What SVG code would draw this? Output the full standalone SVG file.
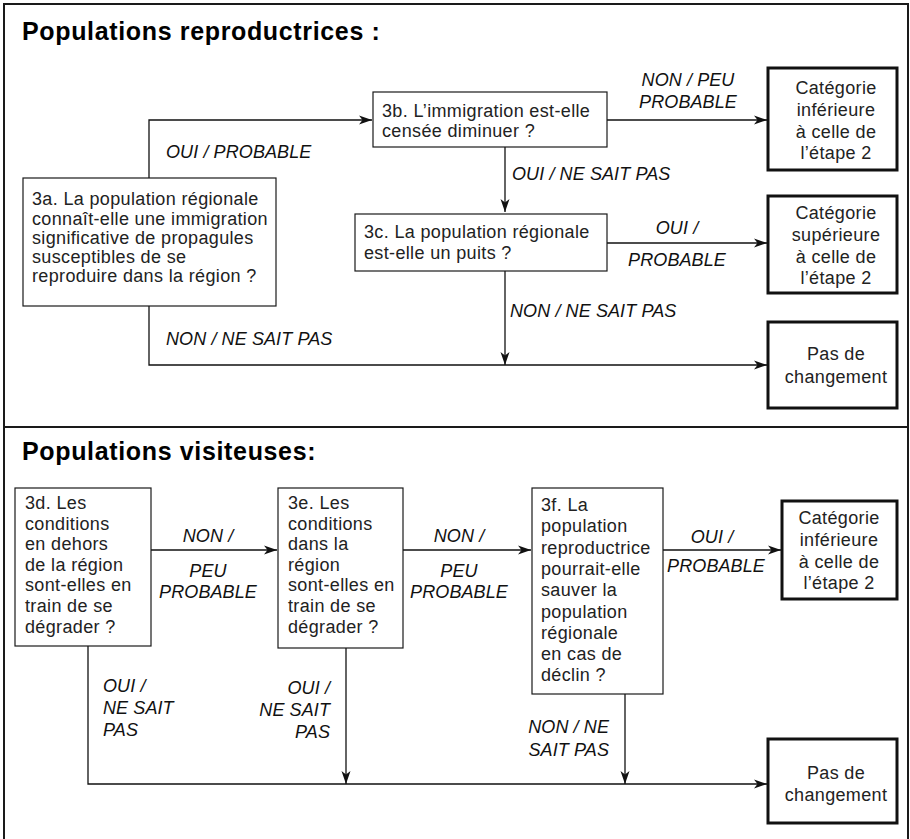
<svg xmlns="http://www.w3.org/2000/svg" width="910" height="839" viewBox="0 0 910 839">
<defs>
<style>
.frame{fill:none;stroke:#1a1a1a;stroke-width:2}
.box{fill:#fff;stroke:#1a1a1a;stroke-width:1.2}
.tbox{fill:#fff;stroke:#111;stroke-width:3}
.t{font-family:"Liberation Sans",Arial,Helvetica,sans-serif;font-size:18px;letter-spacing:0.35px;fill:#222}
.c{text-anchor:middle}
.lab{font-family:"Liberation Sans",Arial,Helvetica,sans-serif;font-size:18px;font-style:italic;letter-spacing:0.1px;fill:#111}
.e{text-anchor:end}
.title{font-family:"Liberation Sans",Arial,Helvetica,sans-serif;font-size:25px;font-weight:bold;fill:#000;letter-spacing:0.65px}
.ln{fill:none;stroke:#111;stroke-width:1.3}
</style>
<marker id="arr" markerUnits="userSpaceOnUse" markerWidth="14" markerHeight="10" refX="13" refY="5" orient="auto">
<path d="M0,0.5 L13,5 L0,9.5 L3.5,5 z" fill="#111"/>
</marker>
</defs>
<rect width="910" height="839" fill="#fff"/>
<g id="frames">
<rect class="frame" x="4" y="4" width="904" height="423"/>
<rect class="frame" x="4" y="427" width="904" height="420"/>
</g>
<text class="title" x="22" y="40">Populations reproductrices :</text>
<text class="title" x="22" y="460">Populations visiteuses:</text>

<g id="connectors">
<path class="ln" d="M149,178 V120 H372" marker-end="url(#arr)"/>
<path class="ln" d="M607,120 H767" marker-end="url(#arr)"/>
<path class="ln" d="M505,147 V212" marker-end="url(#arr)"/>
<path class="ln" d="M607,243 H767" marker-end="url(#arr)"/>
<path class="ln" d="M505,271 V365" marker-end="url(#arr)"/>
<path class="ln" d="M149,306 V365 H767" marker-end="url(#arr)"/>
<path class="ln" d="M151,550 H277" marker-end="url(#arr)"/>
<path class="ln" d="M403,550 H531" marker-end="url(#arr)"/>
<path class="ln" d="M663,550 H781" marker-end="url(#arr)"/>
<path class="ln" d="M88,646 V784 H767" marker-end="url(#arr)"/>
<path class="ln" d="M346,648 V784" marker-end="url(#arr)"/>
<path class="ln" d="M625,694 V784" marker-end="url(#arr)"/>
<text class="lab" x="166" y="158">OUI / PROBABLE</text>
<text class="lab c" x="688" y="86">NON / PEU</text>
<text class="lab c" x="688" y="108">PROBABLE</text>
<text class="lab" x="512" y="180">OUI / NE SAIT PAS</text>
<text class="lab c" x="677" y="234">OUI /</text>
<text class="lab c" x="677" y="266">PROBABLE</text>
<text class="lab" x="510" y="317">NON / NE SAIT PAS</text>
<text class="lab" x="166" y="345">NON / NE SAIT PAS</text>
<text class="lab c" x="208" y="542">NON /</text>
<text class="lab c" x="208" y="577">PEU</text>
<text class="lab c" x="208" y="598">PROBABLE</text>
<text class="lab c" x="459" y="542">NON /</text>
<text class="lab c" x="459" y="577">PEU</text>
<text class="lab c" x="459" y="598">PROBABLE</text>
<text class="lab c" x="712" y="543">OUI /</text>
<text class="lab c" x="716" y="572">PROBABLE</text>
<text class="lab" x="103" y="692">OUI /</text>
<text class="lab" x="103" y="714">NE SAIT</text>
<text class="lab" x="103" y="736">PAS</text>
<text class="lab e" x="330" y="694">OUI /</text>
<text class="lab e" x="330" y="716">NE SAIT</text>
<text class="lab e" x="330" y="738">PAS</text>
<text class="lab e" x="609" y="733">NON / NE</text>
<text class="lab e" x="609" y="756">SAIT PAS</text>
</g>

<g id="n3a">
<rect class="box" x="23" y="178" width="253" height="128"/>
<text class="t" x="32" y="205">3a. La population régionale</text>
<text class="t" x="32" y="224.5">connaît-elle une immigration</text>
<text class="t" x="32" y="244">significative de propagules</text>
<text class="t" x="32" y="263">susceptibles de se</text>
<text class="t" x="32" y="282">reproduire dans la région ?</text>
</g>
<g id="n3b">
<rect class="box" x="373" y="92" width="234" height="55"/>
<text class="t" x="382" y="117">3b. L’immigration est-elle</text>
<text class="t" x="382" y="137">censée diminuer ?</text>
</g>
<g id="n3c">
<rect class="box" x="355" y="214" width="252" height="57"/>
<text class="t" x="364" y="238">3c. La population régionale</text>
<text class="t" x="364" y="259">est-elle un puits ?</text>
</g>
<g id="cat1">
<rect class="tbox" x="768" y="68" width="129" height="102"/>
<text class="t c" x="836" y="94">Catégorie</text>
<text class="t c" x="836" y="116">inférieure</text>
<text class="t c" x="836" y="138">à celle de</text>
<text class="t c" x="836" y="159">l’étape 2</text>
</g>
<g id="cat2">
<rect class="tbox" x="768" y="196" width="129" height="97"/>
<text class="t c" x="836" y="219">Catégorie</text>
<text class="t c" x="836" y="241">supérieure</text>
<text class="t c" x="836" y="263">à celle de</text>
<text class="t c" x="836" y="284">l’étape 2</text>
</g>
<g id="nochange1">
<rect class="tbox" x="768" y="322" width="129" height="86"/>
<text class="t c" x="836" y="360">Pas de</text>
<text class="t c" x="836" y="383">changement</text>
</g>
<g id="n3d">
<rect class="box" x="15" y="488" width="136" height="158"/>
<text class="t" x="25" y="509">3d. Les</text>
<text class="t" x="25" y="529.6">conditions</text>
<text class="t" x="25" y="550.2">en dehors</text>
<text class="t" x="25" y="570.8">de la région</text>
<text class="t" x="25" y="591.4">sont-elles en</text>
<text class="t" x="25" y="612">train de se</text>
<text class="t" x="25" y="632.6">dégrader ?</text>
</g>
<g id="n3e">
<rect class="box" x="278" y="488" width="125" height="160"/>
<text class="t" x="288" y="509">3e. Les</text>
<text class="t" x="288" y="529.6">conditions</text>
<text class="t" x="288" y="550.2">dans la</text>
<text class="t" x="288" y="570.8">région</text>
<text class="t" x="288" y="591.4">sont-elles en</text>
<text class="t" x="288" y="612">train de se</text>
<text class="t" x="288" y="632.6">dégrader ?</text>
</g>
<g id="n3f">
<rect class="box" x="532" y="488" width="131" height="206"/>
<text class="t" x="541" y="511">3f. La</text>
<text class="t" x="541" y="532.3">population</text>
<text class="t" x="541" y="553.6">reproductrice</text>
<text class="t" x="541" y="574.9">pourrait-elle</text>
<text class="t" x="541" y="596.2">sauver la</text>
<text class="t" x="541" y="617.5">population</text>
<text class="t" x="541" y="638.8">régionale</text>
<text class="t" x="541" y="660.1">en cas de</text>
<text class="t" x="541" y="681.4">déclin ?</text>
</g>
<g id="cat3">
<rect class="tbox" x="782" y="501" width="115" height="98"/>
<text class="t c" x="839" y="524">Catégorie</text>
<text class="t c" x="839" y="546">inférieure</text>
<text class="t c" x="839" y="568">à celle de</text>
<text class="t c" x="839" y="589">l’étape 2</text>
</g>
<g id="nochange2">
<rect class="tbox" x="768" y="739" width="129" height="84"/>
<text class="t c" x="836" y="779">Pas de</text>
<text class="t c" x="836" y="801">changement</text>
</g>
</svg>
